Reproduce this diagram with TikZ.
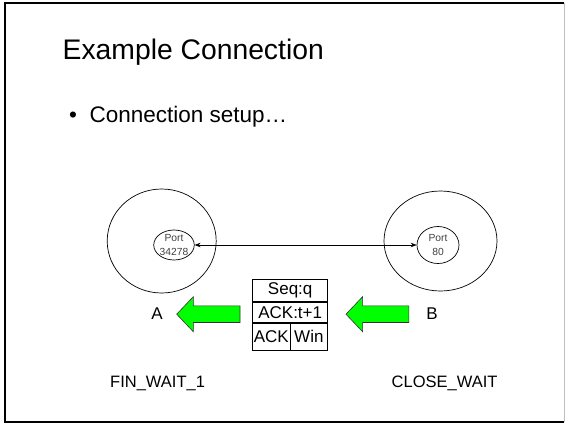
\documentclass[tikz,border=0pt]{standalone}
\usepackage{fontspec}
\setmainfont{Liberation Sans}
\usetikzlibrary{arrows.meta,shapes.geometric}
\definecolor{arrowgreen}{RGB}{0,255,0}
\tikzset{
  host/.style={draw, ellipse, line width=0.7pt, inner sep=0pt},
  port/.style={draw, ellipse, line width=0.7pt, inner sep=0pt, align=center,
    font=\fontsize{10.3}{13.5}\selectfont, text=black!75},
  cell/.style={draw, line width=0.7pt, inner sep=0pt, font=\fontsize{17}{17}\selectfont},
  label/.style={inner sep=0pt, font=\fontsize{17}{17}\selectfont},
  state/.style={inner sep=0pt, font=\fontsize{16.5}{17}\selectfont, anchor=base west},
  bigarrow/.style={fill=arrowgreen, draw=black!80, line width=0.6pt, line join=miter},
}
\begin{document}
\begin{tikzpicture}[x=1pt, y=-1pt]
\useasboundingbox (0,0) rectangle (565,424);
% slide frame
\draw[line width=2.6pt] (564,3) -- (5,3) -- (5,422) -- (564,422);
\draw[black!25, line width=0.8pt] (564,3) -- (564,422);

% heading and bullet
\node[anchor=base west, inner sep=0pt, font=\fontsize{28.3}{30}\selectfont] (title) at (62.5,59.3) {Example Connection};
\node[anchor=base west, inner sep=0pt, font=\fontsize{22.5}{24}\selectfont] (bullet) at (69,122) {\textbullet\ \ Connection setup\ldots};

% the two hosts
\node[host, minimum width=109pt, minimum height=104pt] (hostA) at (161.7,241) {};
\node[host, minimum width=113pt, minimum height=100pt] (hostB) at (440.5,241) {};
\node[port, minimum width=32pt, minimum height=30pt] (portA) at (174,245) {Port\\34278};
\node[port, minimum width=42pt, minimum height=37pt] (portB) at (438,245) {Port\\80};
\draw[{Stealth[length=6pt,width=4.5pt]}-{Stealth[length=6pt,width=4.5pt]}, line width=0.6pt]
  (portA.east) -- (portB.west);

% segment header
\node[cell, minimum width=75pt, minimum height=22.7pt] (seq) at (290.2,290.35) {Seq:q};
\node[cell, minimum width=75pt, minimum height=20pt, anchor=north] (ack) at (seq.south) {ACK:t+1};
\node[cell, minimum width=37.3pt, minimum height=27.3pt, anchor=north west] (ackf) at (ack.south west) {ACK};
\node[cell, minimum width=37.7pt, minimum height=27.3pt, anchor=north east] (win) at (ack.south east) {Win};

% direction arrows
\coordinate (la) at (176.7,314.2);
\draw[bigarrow] (la) -- ++(16.6,-17.5) -- ++(0,9.2) -- ++(46.7,0) -- ++(0,16.6) -- ++(-46.7,0) -- ++(0,9.2) -- cycle;
\coordinate (ra) at (346,314.2);
\draw[bigarrow] (ra) -- ++(16.6,-17.5) -- ++(0,9.2) -- ++(46.3,0) -- ++(0,16.6) -- ++(-46.3,0) -- ++(0,9.2) -- cycle;

% host names and states
\node[label] (nameA) at (157,314) {A};
\node[label] (nameB) at (432,314) {B};
\node[state] (stateA) at (110,387) {FIN\_WAIT\_1};
\node[state] (stateB) at (391.5,387) {CLOSE\_WAIT};
\end{tikzpicture}
\end{document}
